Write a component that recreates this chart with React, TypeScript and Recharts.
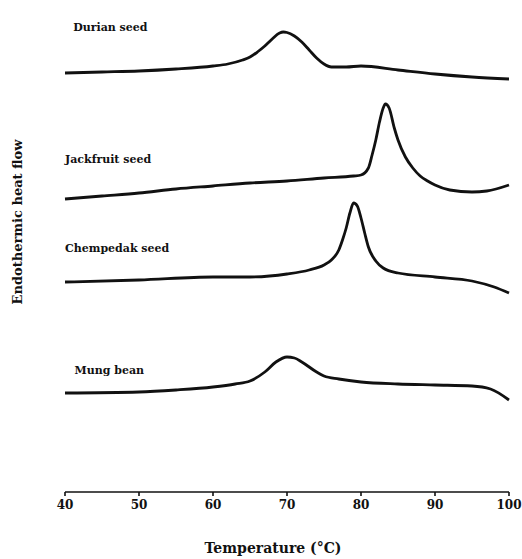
import { LineChart, Line, XAxis, YAxis, ReferenceDot, Label } from "recharts";

// DSC thermograms, heat flow in arbitrary units (traces offset vertically)
const durianT = [40, 45, 50, 55, 60, 62, 64, 65, 66, 67, 68, 69, 69.5, 70, 71, 72, 73, 74, 75, 76, 78, 80, 85, 90, 95, 100];
const durianHF = [41.9, 42.0, 42.1, 42.3, 42.6, 42.8, 43.2, 43.5, 44.0, 44.6, 45.3, 45.9, 46.0, 45.95, 45.6, 45.0, 44.2, 43.4, 42.8, 42.5, 42.5, 42.6, 42.2, 41.8, 41.5, 41.3];

const jackT = [40, 45, 50, 55, 60, 65, 70, 75, 79, 80, 81, 81.5, 82, 82.5, 83, 83.3, 83.8, 84.5, 85, 86, 87, 88, 89, 90, 92, 95, 97, 100];
const jackHF = [29.3, 29.6, 29.9, 30.3, 30.6, 30.9, 31.1, 31.4, 31.6, 31.7, 32.4, 33.7, 35.2, 37.0, 38.4, 38.8, 38.4, 36.4, 35.2, 33.5, 32.4, 31.6, 31.1, 30.7, 30.2, 30.0, 30.1, 30.7];

const chemT = [40, 50, 60, 65, 70, 73, 75, 76, 77, 77.5, 78, 78.5, 79, 79.5, 80, 80.5, 81, 82, 83, 85, 90, 95, 98, 100];
const chemHF = [21.0, 21.2, 21.5, 21.5, 21.8, 22.2, 22.7, 23.2, 24.2, 25.2, 26.4, 27.9, 28.9, 28.6, 27.4, 25.9, 24.5, 23.1, 22.4, 21.9, 21.5, 21.1, 20.5, 19.9];

const mungT = [40, 50, 55, 60, 63, 65, 67, 68.5, 70, 71, 72, 74, 75, 77, 80, 85, 90, 95, 97.5, 100];
const mungHF = [9.9, 10.0, 10.2, 10.5, 10.8, 11.1, 12.0, 13.0, 13.5, 13.4, 13.0, 12.0, 11.6, 11.3, 11.0, 10.8, 10.7, 10.6, 10.3, 9.2];

const sampleNames = ["Durian seed", "Jackfruit seed", "Chempedak seed", "Mung bean"];
const nameT = [41.1, 40, 40, 41.3];
const nameHF = [46.5, 33.3, 24.4, 12.2];

const xTicks = [40, 50, 60, 70, 80, 90, 100];

const FONT = "'DejaVu Serif', 'Liberation Serif', serif";

const toRows = (t: number[], hf: number[]) => t.map((v, i) => ({ t: v, hf: hf[i] }));

const traces = [
  toRows(durianT, durianHF),
  toRows(jackT, jackHF),
  toRows(chemT, chemHF),
  toRows(mungT, mungHF),
];

export default function App() {
  return (
    <div style={{ position: "absolute", left: 0, top: 0, background: "#fff" }}>
      <LineChart width={522} height={559} margin={{ top: 0, right: 13, left: 0, bottom: 0 }}>
        <XAxis
          type="number"
          dataKey="t"
          domain={[40, 100]}
          ticks={xTicks}
          height={67}
          axisLine={{ stroke: "#111", strokeWidth: 1.6 }}
          tickLine={{ stroke: "#111", strokeWidth: 1.6 }}
          tickSize={4}
          tickMargin={4}
          tick={{ fontSize: 12, fontWeight: 700, fill: "#111", fontFamily: FONT }}
        >
          <Label
            value="Temperature (°C)"
            position="insideBottom"
            offset={6}
            dx={-14}
            style={{ fontSize: 14, fontWeight: 700, fill: "#111", fontFamily: FONT }}
          />
        </XAxis>
        <YAxis
          type="number"
          domain={[0, 49.2]}
          width={65}
          axisLine={false}
          tickLine={false}
          tick={false}
        >
          <Label
            content={() => (
              <text
                x={0}
                y={0}
                transform="translate(22, 222) rotate(-90)"
                textAnchor="middle"
                style={{ fontSize: 13, fontWeight: 700, fill: "#111", fontFamily: FONT }}
              >
                Endothermic heat flow
              </text>
            )}
          />
        </YAxis>
        {traces.map((rows, i) => (
          <Line
            key={sampleNames[i]}
            data={rows}
            dataKey="hf"
            type="monotone"
            stroke="#111"
            strokeWidth={2.8}
            dot={false}
            isAnimationActive={false}
          />
        ))}
        {sampleNames.map((name, i) => (
          <ReferenceDot
            key={name}
            x={nameT[i]}
            y={nameHF[i]}
            r={0}
            fill="none"
            stroke="none"
            label={{
              value: name,
              position: "right",
              offset: 0,
              fontSize: 11,
              fontWeight: 700,
              fill: "#111",
              fontFamily: FONT,
            }}
          />
        ))}
      </LineChart>
    </div>
  );
}
